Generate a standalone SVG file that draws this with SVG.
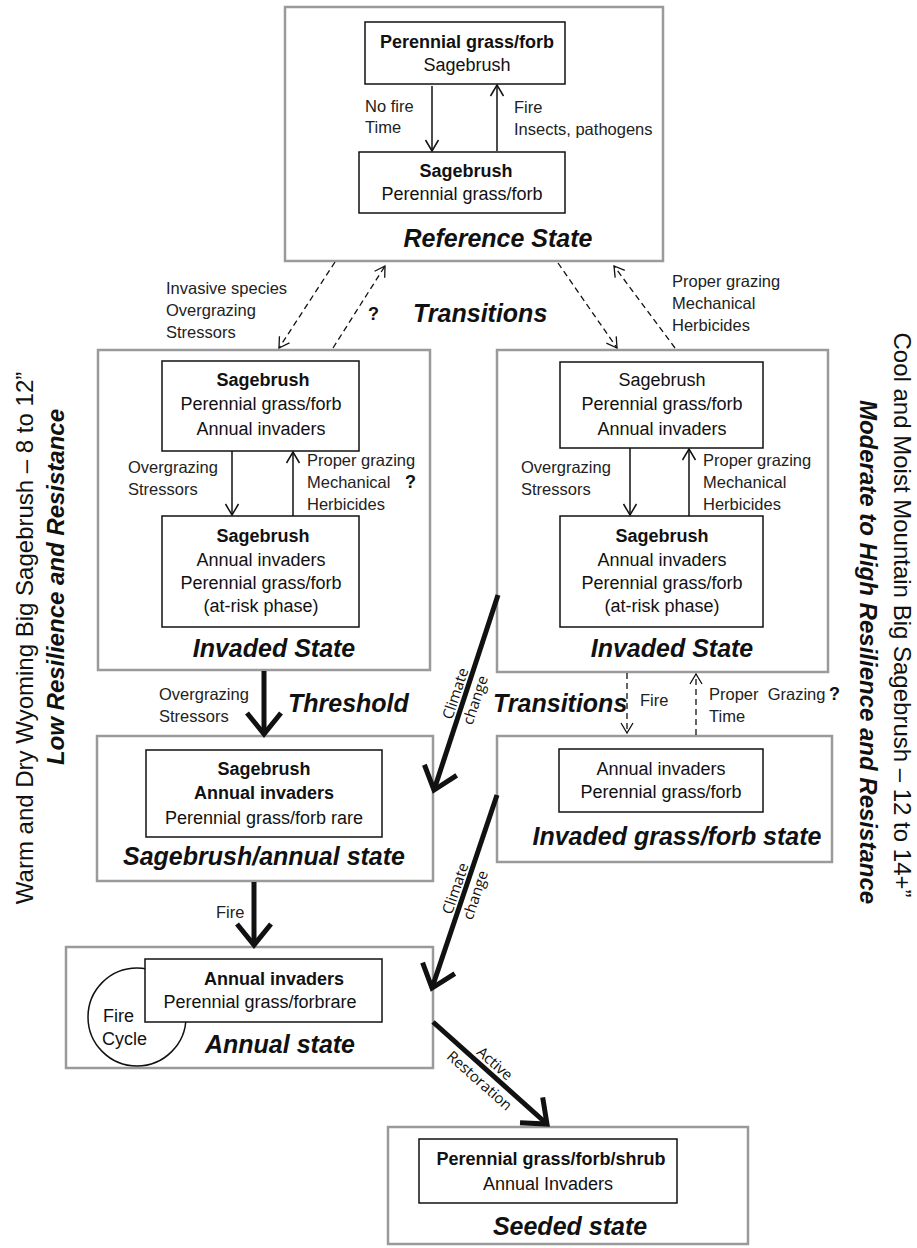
<svg xmlns="http://www.w3.org/2000/svg" width="917" height="1248" viewBox="0 0 917 1248">
<style>
.outer{fill:#fff;stroke:#9a9a9a;stroke-width:2.5}
.inner{fill:#fff;stroke:#111;stroke-width:1.5}
text{font-family:"Liberation Sans",Arial,Helvetica,sans-serif;fill:#111}
.bx{font-size:18px}
.b{font-weight:bold}
.lbl{font-size:16.5px;fill:#222}
.title{font-size:25px;font-weight:bold;font-style:italic}
.c{text-anchor:middle}
.side{font-size:24px}
.cc{font-family:"Open Sans","DejaVu Sans",sans-serif;font-size:15px;text-anchor:middle}
.thin{stroke:#111;stroke-width:1.5;fill:none}
.dash{stroke:#111;stroke-width:1.3;fill:none;stroke-dasharray:6,4}
.thick{stroke:#111;stroke-width:5;fill:none}
</style>
<defs>
<marker id="ah" markerUnits="userSpaceOnUse" markerWidth="16" markerHeight="16" refX="13" refY="8" orient="auto" overflow="visible"><path d="M2,1.5 L13,8 L2,14.5" fill="none" stroke="#111" stroke-width="1.5"/></marker>
<marker id="ahd" markerUnits="userSpaceOnUse" markerWidth="16" markerHeight="16" refX="12" refY="8" orient="auto" overflow="visible"><path d="M2,2 L12,8 L2,14" fill="none" stroke="#111" stroke-width="1.3"/></marker>
<marker id="aht" markerUnits="userSpaceOnUse" markerWidth="40" markerHeight="40" refX="26" refY="20" orient="auto" overflow="visible"><path d="M5,3 L26,20 L5,37" fill="none" stroke="#111" stroke-width="5"/></marker>
</defs>
<rect width="917" height="1248" fill="#fff"/>

<g id="side-left">
<text class="side" transform="translate(33,638) rotate(-90)" text-anchor="middle">Warm and Dry Wyoming Big Sagebrush – 8 to 12”</text>
<text class="side b" font-style="italic" transform="translate(64,587) rotate(-90)" text-anchor="middle">Low Resilience and Resistance</text>
</g>
<g id="side-right">
<text class="side" font-size="25" transform="translate(894,615) rotate(90)" text-anchor="middle">Cool and Moist Mountain Big Sagebrush – 12 to 14+”</text>
<text class="side b" font-style="italic" transform="translate(860,652) rotate(90)" text-anchor="middle">Moderate to High Resilience and Resistance</text>
</g>

<g id="reference-state">
<rect class="outer" x="285" y="7" width="378" height="254"/>
<rect class="inner" x="365" y="22" width="200" height="62"/>
<text class="bx b c" x="467" y="48">Perennial grass/forb</text>
<text class="bx c" x="467" y="71">Sagebrush</text>
<rect class="inner" x="359" y="152" width="206" height="61"/>
<text class="bx b c" x="466" y="177">Sagebrush</text>
<text class="bx c" x="462" y="200">Perennial grass/forb</text>
<text class="title c" x="498" y="247">Reference State</text>
</g>

<g id="invaded-left">
<rect class="outer" x="98" y="350" width="332" height="320"/>
<rect class="inner" x="162" y="361" width="197" height="90"/>
<text class="bx b c" x="263" y="386">Sagebrush</text>
<text class="bx c" x="261" y="410">Perennial grass/forb</text>
<text class="bx c" x="261" y="435">Annual invaders</text>
<rect class="inner" x="162" y="516" width="197" height="111"/>
<text class="bx b c" x="263" y="542">Sagebrush</text>
<text class="bx c" x="261" y="566">Annual invaders</text>
<text class="bx c" x="261" y="589">Perennial grass/forb</text>
<text class="bx c" x="261" y="612">(at-risk phase)</text>
<text class="title c" x="274" y="657">Invaded State</text>
</g>

<g id="invaded-right">
<rect class="outer" x="497" y="350" width="331" height="322"/>
<rect class="inner" x="560" y="362" width="203" height="86"/>
<text class="bx c" x="662" y="386">Sagebrush</text>
<text class="bx c" x="662" y="410">Perennial grass/forb</text>
<text class="bx c" x="662" y="435">Annual invaders</text>
<rect class="inner" x="560" y="516" width="203" height="111"/>
<text class="bx b c" x="662" y="542">Sagebrush</text>
<text class="bx c" x="662" y="566">Annual invaders</text>
<text class="bx c" x="662" y="589">Perennial grass/forb</text>
<text class="bx c" x="662" y="612">(at-risk phase)</text>
<text class="title c" x="672" y="657">Invaded State</text>
</g>

<g id="sagebrush-annual-state">
<rect class="outer" x="97" y="736" width="336" height="145"/>
<rect class="inner" x="146" y="750" width="236" height="87"/>
<text class="bx b c" x="264" y="775">Sagebrush</text>
<text class="bx b c" x="264" y="799">Annual invaders</text>
<text class="bx c" x="264" y="824">Perennial grass/forb rare</text>
<text class="title c" x="264" y="865">Sagebrush/annual state</text>
</g>

<g id="invaded-grass-forb-state">
<rect class="outer" x="497" y="736" width="335" height="126"/>
<rect class="inner" x="559" y="749" width="204" height="63"/>
<text class="bx c" x="661" y="775">Annual invaders</text>
<text class="bx c" x="661" y="798">Perennial grass/forb</text>
<text class="title c" x="677" y="845">Invaded grass/forb state</text>
</g>

<g id="annual-state">
<rect class="outer" x="66" y="947" width="367" height="121"/>
<circle cx="137" cy="1017" r="49" fill="none" stroke="#111" stroke-width="1.5"/>
<rect class="inner" x="145" y="959" width="237" height="63"/>
<text class="bx b c" x="274" y="985">Annual invaders</text>
<text class="bx c" x="260" y="1008">Perennial grass/forbrare</text>
<text class="bx" x="103" y="1022">Fire</text>
<text class="bx" x="102" y="1045">Cycle</text>
<text class="title c" x="280" y="1053">Annual state</text>
</g>

<g id="seeded-state">
<rect class="outer" x="388" y="1127" width="360" height="117"/>
<rect class="inner" x="419" y="1139" width="258" height="64"/>
<text class="bx b c" x="551" y="1165">Perennial grass/forb/shrub</text>
<text class="bx c" x="548" y="1190">Annual Invaders</text>
<text class="title c" x="570" y="1235">Seeded state</text>
</g>

<g id="connectors">
<line class="thin" x1="432" y1="86" x2="432" y2="151" marker-end="url(#ah)"/>
<line class="thin" x1="497" y1="151" x2="497" y2="85" marker-end="url(#ah)"/>
<line class="thin" x1="232" y1="451" x2="232" y2="515" marker-end="url(#ah)"/>
<line class="thin" x1="293" y1="516" x2="293" y2="452" marker-end="url(#ah)"/>
<line class="thin" x1="630" y1="448" x2="630" y2="515" marker-end="url(#ah)"/>
<line class="thin" x1="689" y1="516" x2="689" y2="449" marker-end="url(#ah)"/>
<line class="dash" x1="335" y1="262" x2="279" y2="348" marker-end="url(#ahd)"/>
<line class="dash" x1="333" y1="348" x2="385" y2="266" marker-end="url(#ahd)"/>
<line class="dash" x1="558" y1="263" x2="617" y2="348" marker-end="url(#ahd)"/>
<line class="dash" x1="675" y1="348" x2="614" y2="266" marker-end="url(#ahd)"/>
<line class="dash" x1="627" y1="673" x2="627" y2="733" marker-end="url(#ahd)"/>
<line class="dash" x1="696" y1="735" x2="696" y2="674" marker-end="url(#ahd)"/>
<line class="thick" x1="264" y1="671" x2="264" y2="734" marker-end="url(#aht)"/>
<line class="thick" x1="254" y1="882" x2="254" y2="945" marker-end="url(#aht)"/>
<line class="thick" x1="498" y1="595" x2="434" y2="790" marker-end="url(#aht)"/>
<line class="thick" x1="497" y1="795" x2="432" y2="988" marker-end="url(#aht)"/>
<line class="thick" x1="433" y1="1022" x2="547" y2="1124" marker-end="url(#aht)"/>

<text class="lbl" x="365" y="112">No fire</text>
<text class="lbl" x="365" y="133">Time</text>
<text class="lbl" x="514" y="113">Fire</text>
<text class="lbl" x="514" y="135">Insects, pathogens</text>

<text class="lbl" x="166" y="294">Invasive species</text>
<text class="lbl" x="166" y="316">Overgrazing</text>
<text class="lbl" x="166" y="338">Stressors</text>
<text class="bx b" x="368" y="320">?</text>
<text class="title" x="413" y="322">Transitions</text>
<text class="lbl" x="672" y="287">Proper grazing</text>
<text class="lbl" x="672" y="309">Mechanical</text>
<text class="lbl" x="672" y="331">Herbicides</text>

<text class="lbl" x="128" y="473">Overgrazing</text>
<text class="lbl" x="128" y="495">Stressors</text>
<text class="lbl" x="307" y="466">Proper grazing</text>
<text class="lbl" x="307" y="488">Mechanical</text>
<text class="lbl" x="307" y="510">Herbicides</text>
<text class="bx b" x="405" y="488">?</text>

<text class="lbl" x="521" y="473">Overgrazing</text>
<text class="lbl" x="521" y="495">Stressors</text>
<text class="lbl" x="703" y="466">Proper grazing</text>
<text class="lbl" x="703" y="488">Mechanical</text>
<text class="lbl" x="703" y="510">Herbicides</text>

<text class="lbl" x="159" y="700">Overgrazing</text>
<text class="lbl" x="159" y="722">Stressors</text>
<text class="title" x="288" y="712">Threshold</text>
<text class="title" x="493" y="712">Transitions</text>
<text class="lbl" x="640" y="706">Fire</text>
<text class="lbl" x="709" y="700" xml:space="preserve">Proper  Grazing</text>
<text class="bx b" x="829" y="700">?</text>
<text class="lbl" x="709" y="722">Time</text>
<text class="lbl" x="216" y="918">Fire</text>

<g transform="translate(466,697) rotate(-71.8)">
<text class="cc" x="0" y="-6">Climate</text>
<text class="cc" x="0" y="15">change</text>
</g>
<g transform="translate(466,892) rotate(-71.4)">
<text class="cc" x="0" y="-6">Climate</text>
<text class="cc" x="0" y="15">change</text>
</g>
<g transform="translate(488,1071) rotate(41.5)">
<text class="cc" x="0" y="-5">Active</text>
<text class="cc" x="0" y="18">Restoration</text>
</g>
</g>
</svg>
